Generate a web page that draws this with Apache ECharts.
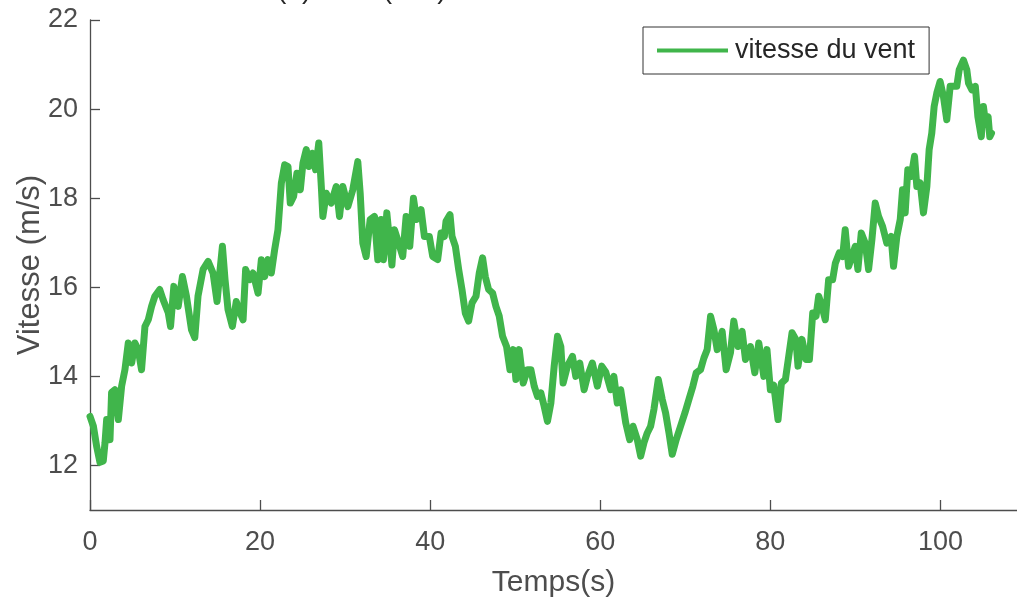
<!DOCTYPE html>
<html>
<head>
<meta charset="utf-8">
<title>vitesse du vent</title>
<script src="https://cdn.jsdelivr.net/npm/echarts@6/dist/echarts.min.js"></script>
<style>
	html, body { margin: 0; padding: 0; background: #fff; }
	#windChart { width: 1017px; height: 601px; }
</style>
</head>
<body>
<div id="windChart"></div>
<script>
var seriesName = "vitesse du vent";
var titleText = "(a) Vent (m/s)";
var yTicks = [12, 14, 16, 18, 20, 22];
var xTicks = [0, 20, 40, 60, 80, 100];

// temps (s)
var times = [
	0, 0.4, 0.78, 1.17, 1.56, 1.76, 1.96, 2.35, 2.54, 2.93, 3.33, 3.72, 4.11, 4.5, 4.9,
	5.28, 5.67, 6.06, 6.46, 6.85, 7.24, 7.63, 8.2, 8.6, 9.2, 9.47, 9.86, 10.37, 10.87,
	11.34, 11.93, 12.32, 12.7, 13.3, 13.89, 14.47, 14.94, 15.26, 15.57, 15.88, 16.23,
	16.74, 17.2, 17.6, 18.0, 18.3, 18.78, 19.17, 19.76, 20.15, 20.54, 20.93, 21.32,
	21.71, 22.1, 22.5, 22.89, 23.28, 23.55, 23.94, 24.33, 24.73, 25.04, 25.43, 25.74,
	26.13, 26.53, 26.9, 27.2, 27.38, 27.78, 28.37, 28.95, 29.34, 29.73, 30.32, 30.9,
	31.49, 31.77, 32.08, 32.47, 32.94, 33.45, 33.84, 34.23, 34.5, 34.9, 35.5, 35.8,
	36.3, 36.77, 37.17, 37.6, 38.03, 38.4, 38.93, 39.32, 39.9, 40.3, 40.88, 41.28,
	41.67, 41.86, 42.33, 42.57, 42.96, 43.35, 43.74, 44.13, 44.52, 44.92, 45.39, 45.77,
	46.16, 46.48, 46.87, 47.34, 47.73, 48.12, 48.51, 48.98, 49.38, 49.77, 50.08, 50.47,
	50.94, 51.44, 51.84, 52.23, 52.62, 53.01, 53.4, 53.79, 54.19, 54.58, 54.97, 55.36,
	55.63, 56.14, 56.73, 57.12, 57.59, 58.1, 58.49, 59.07, 59.66, 60.17, 60.64, 61.23,
	61.6, 62.0, 62.4, 62.99, 63.46, 63.85, 64.35, 64.75, 65.14, 65.53, 65.92, 66.31,
	66.82, 67.29, 67.68, 68.08, 68.46, 68.93, 69.44, 69.95, 70.42, 70.89, 71.28, 71.79,
	72.18, 72.57, 72.97, 73.36, 73.75, 74.33, 74.8, 75.31, 75.7, 76.2, 76.68, 77.07,
	77.66, 78.17, 78.64, 79.23, 79.6, 80.0, 80.4, 80.9, 81.3, 81.77, 82.16, 82.55,
	83.0, 83.25, 83.72, 84.19, 84.59, 84.98, 85.37, 85.68, 86.07, 86.46, 86.85, 87.32,
	87.64, 88.1, 88.5, 88.8, 89.2, 89.59, 89.98, 90.29, 90.69, 91.16, 91.55, 91.94,
	92.33, 92.72, 93.19, 93.69, 94.2, 94.48, 94.87, 95.27, 95.54, 95.85, 96.16, 96.56,
	96.95, 97.22, 97.62, 98.0, 98.4, 98.67, 98.98, 99.26, 99.57, 99.96, 100.35, 100.74,
	101.14, 101.53, 101.92, 102.2, 102.7, 103.1, 103.3, 103.7, 104.1, 104.4, 104.8,
	105.05, 105.3, 105.6, 105.8, 106.0
];

// vitesse (m/s)
var speeds = [
	13.1, 12.88, 12.43, 12.07, 12.1, 12.5, 13.03, 12.58, 13.64, 13.7, 13.03, 13.78, 14.15, 14.75, 14.3,
	14.75, 14.6, 14.15, 15.12, 15.27, 15.57, 15.8, 15.95, 15.72, 15.43, 15.12, 16.02, 15.57, 16.24,
	15.8, 15.05, 14.87, 15.8, 16.4, 16.58, 16.32, 15.68, 16.33, 16.92, 16.17, 15.5,
	15.12, 15.68, 15.45, 15.27, 16.4, 16.17, 16.32, 15.87, 16.62, 16.24, 16.62, 16.32,
	16.84, 17.29, 18.34, 18.75, 18.71, 17.89, 18.04, 18.56, 18.19, 18.79, 19.09, 18.71,
	19.01, 18.64, 19.24, 18.26, 17.59, 18.11, 17.89, 18.26, 17.59, 18.26, 17.81, 18.19,
	18.82, 18.11, 16.99, 16.69, 17.52, 17.59, 16.62, 17.52, 16.62, 17.67, 16.5, 17.29,
	16.99, 16.69, 17.59, 16.92, 18.0, 17.52, 17.74, 17.14, 17.14, 16.69, 16.62, 17.22,
	17.14, 17.48, 17.63, 17.14, 16.92, 16.4, 15.95, 15.42, 15.24, 15.65, 15.8, 16.32,
	16.66, 16.24, 15.95, 15.87, 15.57, 15.35, 14.9, 14.67, 14.15, 14.6, 13.93, 14.6,
	13.85, 14.15, 14.15, 13.78, 13.55, 13.63, 13.33, 12.99, 13.4, 14.23, 14.9, 14.67,
	13.85, 14.23, 14.45, 14.0, 14.3, 13.7, 14.0, 14.3, 13.78, 14.23, 14.1, 13.7,
	14.0, 13.4, 13.7, 12.96, 12.58, 12.88, 12.58, 12.21, 12.51, 12.73, 12.88, 13.26,
	13.93, 13.48, 13.18, 12.73, 12.25, 12.58, 12.88, 13.18, 13.48, 13.78, 14.08, 14.15,
	14.41, 14.6, 15.35, 15.05, 14.6, 15.01, 14.15, 14.53, 15.24, 14.67, 15.01, 14.38,
	14.67, 14.08, 14.75, 14.0, 14.6, 13.7, 13.8, 13.03, 13.85, 13.93, 14.45, 14.98,
	14.83, 14.23, 14.83, 14.38, 14.38, 15.42, 15.35, 15.8, 15.57, 15.27, 16.17, 16.17,
	16.54, 16.77, 16.69, 17.29, 16.47, 16.69, 16.92, 16.4, 17.22, 16.99, 16.4, 17.07,
	17.89, 17.59, 17.37, 16.99, 17.14, 16.47, 17.14, 17.52, 18.19, 17.67, 18.64, 18.49,
	18.94, 18.26, 18.34, 17.67, 18.26, 19.09, 19.46, 20.06, 20.36, 20.62, 20.28, 19.76,
	20.51, 20.51, 20.51, 20.88, 21.1, 20.88, 20.58, 20.43, 20.51, 19.83, 19.38,
	20.06, 19.69, 19.83, 19.38, 19.46
];

var chart;

function buildPoints() {
	var pts = [];
	for (var i = 0; i < times.length; i++) {
		pts.push([times[i], speeds[i]]);
	}
	return pts;
}

function initChart() {
	var dom = document.getElementById('windChart');
	chart = echarts.init(dom, null, { renderer: 'canvas' });
	var axisColor = '#4d4d4d';
	var green = '#40b54b';
	var font = 'Liberation Sans, Arial, sans-serif';
	var option = {
		animation: false,
		backgroundColor: '#fff',
		title: {
			text: titleText,
			left: 277,
			top: -24,
			padding: 0,
			textStyle: { fontFamily: font, fontSize: 28, fontWeight: 'normal', color: '#262626' }
		},
		legend: {
			left: 643,
			top: 27,
			padding: [10, 14, 10, 14],
			borderColor: '#333',
			borderWidth: 1,
			backgroundColor: '#fff',
			itemWidth: 71,
			itemHeight: 4,
			icon: 'rect',
			textStyle: { fontFamily: font, fontSize: 27, color: '#262626', padding: [0, 0, 0, 2] },
			data: [seriesName]
		},
		grid: {
			left: 90,
			right: 0,
			top: 20,
			bottom: 91,
			containLabel: false,
			outerBoundsMode: 'none'
		},
		xAxis: {
			type: 'value',
			min: 0,
			max: 109,
			name: 'Temps(s)',
			nameLocation: 'middle',
			nameGap: 58,
			nameMoveOverlap: false,
			nameTextStyle: { fontFamily: font, fontSize: 30, color: axisColor },
			axisLine: { show: true, lineStyle: { color: axisColor, width: 1.3 } },
			axisTick: { show: true, inside: true, length: 10, customValues: xTicks, lineStyle: { color: axisColor, width: 1.3 } },
			axisLabel: {
				margin: 19,
				fontFamily: font,
				fontSize: 27,
				color: axisColor,
				customValues: xTicks
			},
			splitLine: { show: false }
		},
		yAxis: {
			type: 'value',
			min: 11,
			max: 22,
			name: 'Vitesse (m/s)',
			nameLocation: 'middle',
			nameGap: 44,
			nameMoveOverlap: false,
			nameRotate: 90,
			nameTextStyle: { fontFamily: font, fontSize: 31, color: axisColor },
			axisLine: { show: true, lineStyle: { color: axisColor, width: 1.3 } },
			axisTick: { show: true, inside: true, length: 10, customValues: yTicks, lineStyle: { color: axisColor, width: 1.3 } },
			axisLabel: {
				margin: 12,
				fontFamily: font,
				fontSize: 27,
				color: axisColor,
				customValues: yTicks
			},
			splitLine: { show: false }
		},
		series: [
			{
				name: seriesName,
				type: 'line',
				showSymbol: false,
				symbol: 'none',
				clip: true,
				lineStyle: { color: green, width: 7, join: 'round', cap: 'round' },
				itemStyle: { color: green },
				data: buildPoints()
			}
		]
	};
	chart.setOption(option);
	window.onresize = chart.resize;
}

initChart();
</script>
</body>
</html>
